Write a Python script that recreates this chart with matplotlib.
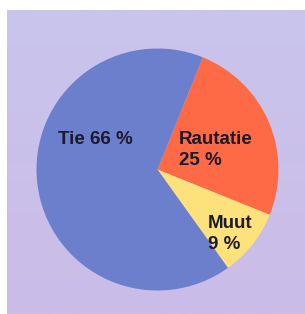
import matplotlib
matplotlib.use("Agg")
import matplotlib.pyplot as plt
import numpy as np
from matplotlib.colors import LinearSegmentedColormap

# Data
categories = ["Rautatie", "Muut", "Tie"]
shares = [25, 9, 66]
colors = ["#fe6a45", "#fde27c", "#6b7fcd"]

W, H = 305, 314
fig = plt.figure(figsize=(W / 100, H / 100), dpi=100, facecolor="white")
ax = fig.add_axes([0, 0, 1, 1])

# lavender panel with a faint vertical gradient
grad = np.linspace(0, 1, 256).reshape(-1, 1)
cmap = LinearSegmentedColormap.from_list("bg", ["#cbbce8", "#c9c5ec"])
ax.imshow(grad, extent=(7, W, 0, H - 10), origin="lower", cmap=cmap,
          aspect="auto", zorder=0)

cx, cy, r = 157.5, H - 169.5, 121
ax.pie(shares, colors=colors, startangle=68, counterclock=False,
       center=(cx, cy), radius=r, frame=True,
       wedgeprops=dict(linewidth=0, zorder=2))
ax.set_xlim(0, W)
ax.set_ylim(0, H)
ax.set_aspect("auto")
ax.axis("off")

tk = dict(fontfamily="Liberation Sans", fontweight="bold", fontsize=13.5,
          color="#1b1b2b", ha="left", va="top", linespacing=1.3, zorder=5)
ax.text(58, H - 131, f"{categories[2]} {shares[2]} %", **tk)
ax.text(179, H - 131, f"{categories[0]}\n{shares[0]} %", **tk)
ax.text(208, H - 215, f"{categories[1]}\n{shares[1]} %", **tk)

fig.savefig("out.png", dpi=100, facecolor="white")
